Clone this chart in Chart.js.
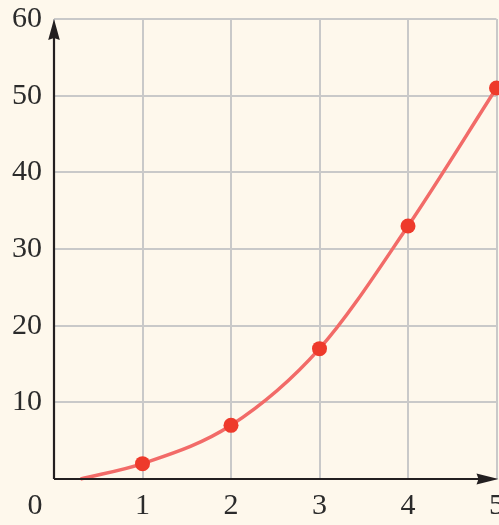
<!DOCTYPE html>
<html lang="en">
<head>
<meta charset="UTF-8">
<title>Curve</title>
<style>
  html, body { margin: 0; padding: 0; background: #fef8ec; }
  .wrap { position: relative; width: 499px; height: 525px; }
</style>
</head>
<body>
<div class="wrap"><canvas id="chart"></canvas></div>

<script src="https://cdn.jsdelivr.net/npm/chart.js"></script>
<script>
  // values
  const xValues = [0.3, 1, 2, 3, 4, 5];
  const yValues = [0, 2, 7, 17, 33, 51];
  const markerSizes = [0, 7.5, 7.5, 7.5, 7.5, 7.5];
  const xTickLabels = ['0', '1', '2', '3', '4', '5'];
  const yTickLabels = ['0', '10', '20', '30', '40', '50', '60'];

  const bg = '#fef8ec';
  const axisColor = '#231f20';
  const textColor = '#2b2b2b';
  const fontSpec = { family: '"Liberation Serif", "DejaVu Serif", serif', size: 30, lineHeight: 1.2 };

  // background, axes with arrow heads and the lone "0" at the corner
  const axesPlugin = {
    id: 'axes',
    beforeDraw(chart) {
      const ctx = chart.ctx;
      ctx.save();
      ctx.fillStyle = bg;
      ctx.fillRect(0, 0, chart.width, chart.height);
      ctx.restore();
    },
    afterDatasetsDraw(chart) {
      const { ctx, chartArea } = chart;
      const x0 = chart.scales.x.getPixelForValue(0);
      const y0 = chart.scales.y.getPixelForValue(0);
      ctx.save();
      ctx.strokeStyle = axisColor;
      ctx.fillStyle = axisColor;
      ctx.lineWidth = 2.2;
      ctx.beginPath();
      ctx.moveTo(x0, y0);
      ctx.lineTo(x0, chartArea.top + 12);
      ctx.moveTo(x0, y0);
      ctx.lineTo(chart.width - 12, y0);
      ctx.stroke();
      // y arrow
      const yt = chartArea.top;
      ctx.beginPath();
      ctx.moveTo(x0, yt);
      ctx.lineTo(x0 + 5.8, yt + 21);
      ctx.lineTo(x0, yt + 19);
      ctx.lineTo(x0 - 5.8, yt + 21);
      ctx.closePath();
      ctx.fill();
      // x arrow
      const xt = chart.width - 0.5;
      ctx.beginPath();
      ctx.moveTo(xt, y0);
      ctx.lineTo(xt - 22, y0 - 5.5);
      ctx.lineTo(xt - 20, y0);
      ctx.lineTo(xt - 22, y0 + 5.5);
      ctx.closePath();
      ctx.fill();
      ctx.restore();
    },
    afterDraw(chart) {
      const ctx = chart.ctx;
      ctx.save();
      ctx.fillStyle = textColor;
      ctx.font = fontSpec.size + 'px ' + fontSpec.family;
      ctx.textAlign = 'center';
      ctx.textBaseline = 'middle';
      ctx.fillText(xTickLabels[0], 35, 506);
      ctx.restore();
    }
  };

  new Chart(document.getElementById('chart'), {
    type: 'line',
    data: {
      labels: xValues,
      datasets: [{
        data: xValues.map((x, i) => ({ x: x, y: yValues[i] })),
        borderColor: '#f26b68',
        borderWidth: 3.5,
        cubicInterpolationMode: 'monotone',
        pointRadius: markerSizes,
        pointHoverRadius: markerSizes,
        pointBackgroundColor: '#ee3a2b',
        pointBorderWidth: 0,
        clip: false
      }]
    },
    options: {
      responsive: true,
      maintainAspectRatio: false,
      animation: false,
      events: [],
      layout: { autoPadding: false, padding: { left: 0, top: 19, right: 2.5, bottom: 0 } },
      plugins: { legend: { display: false }, tooltip: { enabled: false } },
      scales: {
        x: {
          type: 'linear',
          min: 0,
          max: 5,
          border: { display: false },
          grid: { color: '#c9c9c9', lineWidth: 2, drawTicks: false },
          ticks: {
            stepSize: 1,
            padding: 9,
            color: textColor,
            font: fontSpec,
            callback: v => (v === 0 ? '' : xTickLabels[v])
          },
          afterFit(scale) { scale.paddingLeft = 0; scale.paddingRight = 0; scale.height = 46; }
        },
        y: {
          min: 0,
          max: 60,
          border: { display: false },
          grid: { color: '#c9c9c9', lineWidth: 2, drawTicks: false },
          ticks: {
            stepSize: 10,
            padding: 12,
            color: textColor,
            font: fontSpec,
            callback: v => (v === 0 ? '' : yTickLabels[v / 10])
          },
          afterFit(scale) { scale.paddingTop = 0; scale.paddingBottom = 0; scale.width = 54; }
        }
      }
    },
    plugins: [axesPlugin]
  });
</script>
</body>
</html>
